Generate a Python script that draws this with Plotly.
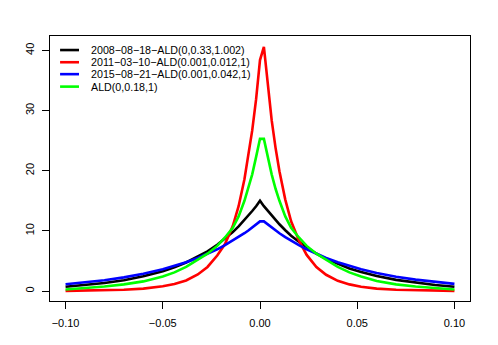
import plotly.graph_objects as go

# x grid shared by all four density curves
x_vals = [-0.100, -0.090, -0.080, -0.070, -0.060, -0.050, -0.044, -0.038, -0.032, -0.027,
          -0.022, -0.018, -0.014, -0.011, -0.008, -0.006, -0.004, -0.002, 0.000, 0.002,
          0.004, 0.006, 0.008, 0.010, 0.013, 0.016, 0.020, 0.024, 0.029, 0.034,
          0.040, 0.046, 0.052, 0.060, 0.070, 0.080, 0.090, 0.100]

dens_2008 = [0.72, 0.98, 1.33, 1.80, 2.45, 3.30, 3.95, 4.75, 5.70, 6.60,
             7.70, 8.70, 9.80, 10.75, 11.80, 12.50, 13.30, 14.10, 15.00, 14.10,
             13.30, 12.50, 11.80, 11.10, 10.10, 9.20, 8.20, 7.25, 6.20, 5.35,
             4.50, 3.75, 3.15, 2.50, 1.85, 1.38, 1.00, 0.72]

dens_2011 = [0.02, 0.05, 0.10, 0.20, 0.40, 0.78, 1.15, 1.75, 2.75, 4.00,
             5.90, 7.80, 10.80, 14.10, 18.60, 22.30, 26.70, 31.90, 38.40, 40.60,
             33.90, 28.40, 23.80, 19.90, 15.20, 11.60, 8.40, 6.00, 4.00, 2.70,
             1.70, 1.10, 0.72, 0.40, 0.20, 0.10, 0.05, 0.02]

dens_2015 = [1.13, 1.43, 1.80, 2.27, 2.87, 3.62, 4.16, 4.78, 5.50, 6.18,
             6.94, 7.62, 8.36, 8.97, 9.61, 10.07, 10.55, 11.05, 11.58, 11.58,
             11.05, 10.55, 10.07, 9.61, 8.97, 8.36, 7.62, 6.94, 6.18, 5.50,
             4.78, 4.16, 3.62, 3.00, 2.38, 1.89, 1.50, 1.19]

dens_ald = [0.25, 0.45, 0.75, 1.10, 1.60, 2.40, 3.10, 4.00, 5.20, 6.20,
            7.50, 8.90, 10.50, 12.40, 15.00, 17.00, 19.40, 22.30, 25.30, 25.30,
            22.30, 19.40, 17.00, 15.00, 12.40, 10.50, 8.90, 7.50, 6.20, 5.20,
            4.00, 3.10, 2.40, 1.65, 1.10, 0.75, 0.45, 0.25]

names = ['2008\u221208\u221218\u2212ALD(0,0.33,1.002)',
         '2011\u221203\u221210\u2212ALD(0.001,0.012,1)',
         '2015\u221208\u221221\u2212ALD(0.001,0.042,1)',
         'ALD(0,0.18,1)']
series = [dens_2008, dens_2011, dens_2015, dens_ald]
colors = ['black', 'red', 'blue', '#00ff00']

x_ticks = [-0.10, -0.05, 0.00, 0.05, 0.10]
x_ticktext = ['\u22120.10', '\u22120.05', '0.00', '0.05', '0.10']
y_ticks = [0, 10, 20, 30, 40]

fig = go.Figure()
for nm, ys, col in zip(names, series, colors):
    fig.add_trace(go.Scatter(
        name=nm,
        x=x_vals,
        y=ys,
        mode='lines',
        line=dict(color=col, width=2.6),
        showlegend=False,
    ))

# R-style legend (no box) in the top-left corner of the plot
leg_y = [0.947, 0.901, 0.856, 0.809]
for nm, col, yy in zip(names, colors, leg_y):
    fig.add_shape(type='line', xref='paper', yref='paper',
                  x0=0.024, x1=0.069, y0=yy, y1=yy,
                  line=dict(color=col, width=2.6))
    fig.add_annotation(xref='paper', yref='paper', x=0.093, y=yy,
                       text=nm, showarrow=False,
                       xanchor='left', yanchor='middle',
                       font=dict(size=10.7, color='black'))

fig.update_layout(
    width=498,
    height=345,
    margin=dict(l=50, r=28, t=36, b=44),
    plot_bgcolor='white',
    paper_bgcolor='white',
    font=dict(family='Liberation Sans, Arial, sans-serif', size=11, color='black'),
)
fig.update_xaxes(
    range=[-0.108, 0.108],
    tickvals=x_ticks, ticktext=x_ticktext,
    showgrid=False, zeroline=False,
    showline=True, linecolor='black', linewidth=1, mirror=True,
    ticks='outside', ticklen=7, tickcolor='black',
    ticklabelstandoff=5,
)
fig.update_yaxes(
    range=[-1.66, 42.4],
    tickvals=y_ticks,
    tickangle=-90,
    showgrid=False, zeroline=False,
    showline=True, linecolor='black', linewidth=1, mirror=True,
    ticks='outside', ticklen=7, tickcolor='black',
    ticklabelstandoff=4,
)

fig.write_html("out.html", config={'displayModeBar': False},
               post_script="document.body.style.margin='0';")
